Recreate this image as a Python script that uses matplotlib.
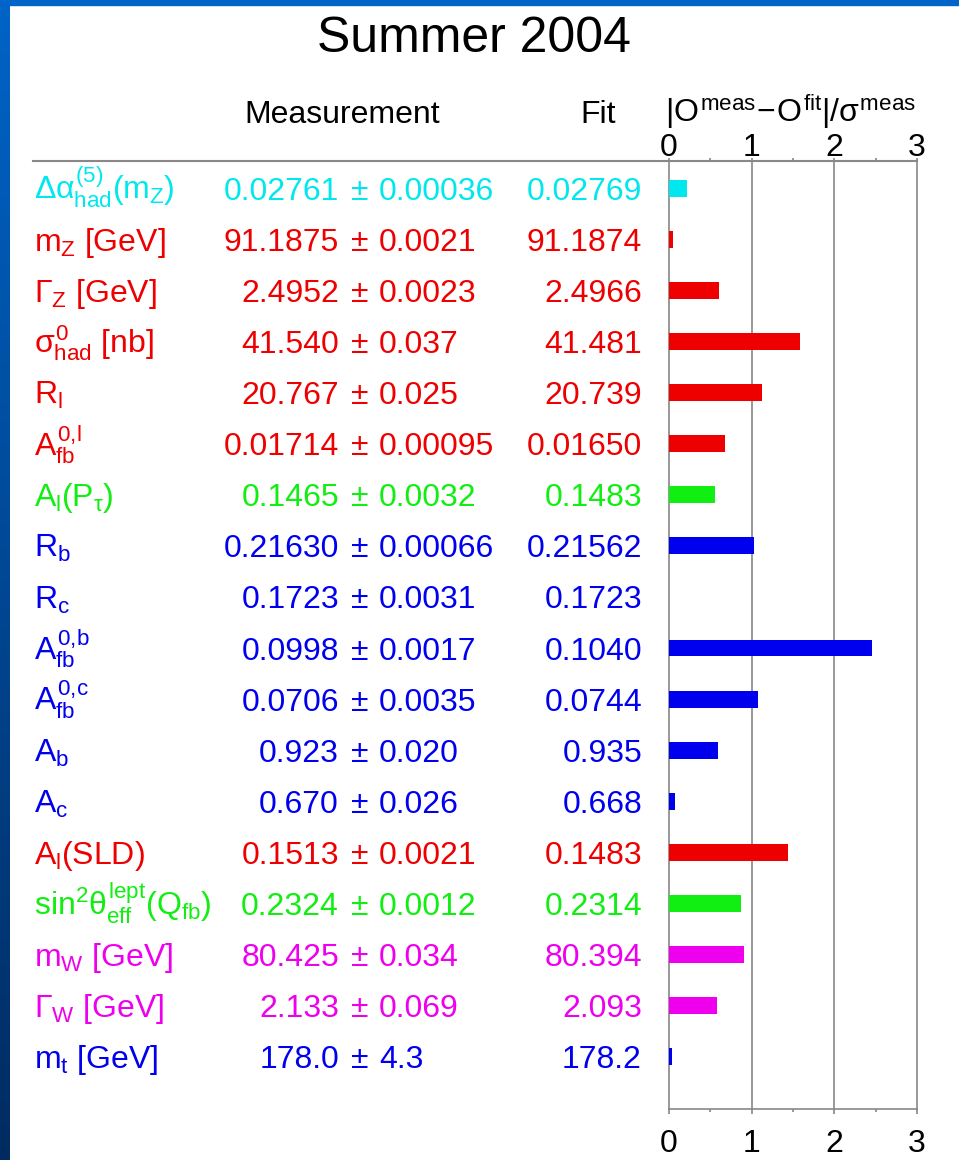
import numpy as np
import matplotlib
matplotlib.use('Agg')
from matplotlib import pyplot as plt
from matplotlib.lines import Line2D
from matplotlib.patches import Rectangle
from matplotlib.transforms import blended_transform_factory

plt.rcParams['font.family'] = 'Liberation Sans'
plt.rcParams['mathtext.fontset'] = 'custom'
plt.rcParams['mathtext.rm'] = 'Liberation Sans'
plt.rcParams['mathtext.it'] = 'Liberation Sans'
plt.rcParams['mathtext.sf'] = 'Liberation Sans'
plt.rcParams['mathtext.bf'] = 'Liberation Sans:bold'

# Electroweak observables, Summer 2004 fit
labels = [r'$\Delta\alpha^{(5)}_{had}(m_Z)$', r'$m_Z$ [GeV]', r'$\Gamma_Z$ [GeV]',
          r'$\sigma^0_{had}$ [nb]', r'$R_l$', r'$A^{0{,}l}_{fb}$', r'$A_l(P_\tau)$',
          r'$R_b$', r'$R_c$', r'$A^{0{,}b}_{fb}$', r'$A^{0{,}c}_{fb}$', r'$A_b$', r'$A_c$',
          r'$A_l$(SLD)', r'$\mathrm{sin}^2\theta^{lept}_{eff}(Q_{fb})$', r'$m_W$ [GeV]',
          r'$\Gamma_W$ [GeV]', r'$m_t$ [GeV]']
meas = ['0.02761', '91.1875', '2.4952', '41.540', '20.767', '0.01714', '0.1465',
        '0.21630', '0.1723', '0.0998', '0.0706', '0.923', '0.670', '0.1513',
        '0.2324', '80.425', '2.133', '178.0']
errs = ['0.00036', '0.0021', '0.0023', '0.037', '0.025', '0.00095', '0.0032',
        '0.00066', '0.0031', '0.0017', '0.0035', '0.020', '0.026', '0.0021',
        '0.0012', '0.034', '0.069', '4.3']
fits = ['0.02769', '91.1874', '2.4966', '41.481', '20.739', '0.01650', '0.1483',
        '0.21562', '0.1723', '0.1040', '0.0744', '0.935', '0.668', '0.1483',
        '0.2314', '80.394', '2.093', '178.2']
pulls = [0.22, 0.05, 0.61, 1.59, 1.12, 0.68, 0.56, 1.03, 0.00, 2.45, 1.08, 0.59,
         0.07, 1.44, 0.87, 0.91, 0.58, 0.04]

cyan, red, green, blue, mag = '#00e8ee', '#ee0000', '#11ee11', '#0000ee', '#ee00ee'
row_colors = [cyan, red, red, red, red, red, green, blue, blue, blue, blue, blue,
              blue, red, green, mag, mag, blue]

W, H = 959, 1160
fig = plt.figure(figsize=(W / 100, H / 100), dpi=100)
fig.patch.set_facecolor('white')

# blue frame on the left and top
strip = fig.add_axes([0, 0, 10 / W, 1])
grad = np.linspace(0, 1, 256).reshape(-1, 1)
strip.imshow(np.dstack([grad * 0 + 0.0, 0.39 - 0.22 * grad, 0.78 - 0.40 * grad]),
             aspect='auto', extent=[0, 1, 0, 1])
strip.axis('off')
fig.add_artist(Rectangle((0, 1 - 5 / H), 1, 5 / H, transform=fig.transFigure,
                         color='#0064c8', zorder=5))

def fx(px):
    return px / W

def fy(py):
    return 1 - py / H

grey = '#888888'
ax = fig.add_axes([fx(669), fy(1109), fx(917) - fx(669), (1109 - 161) / H])
rows = np.arange(len(pulls))
ax.barh(rows, pulls, height=0.33, color=row_colors, zorder=3)
ax.set_xlim(0, 3)
ax.set_ylim(18.02, -0.53)
for g in [1, 2]:
    ax.axvline(g, color=grey, lw=1.2, zorder=1)
for s in ['left', 'right', 'bottom']:
    ax.spines[s].set_color(grey)
    ax.spines[s].set_linewidth(1.2)
ax.spines['top'].set_visible(False)
ax.set_yticks([])
ax.set_xticks([0, 1, 2, 3])
ax.set_xticks([0.5, 1.5, 2.5], minor=True)
ax.tick_params(axis='x', which='major', direction='out', length=3.6, width=1.2,
               color=grey, labelsize=23, pad=11)
ax.tick_params(axis='x', which='minor', direction='out', length=2.2, width=1.2,
               color=grey)

top = ax.secondary_xaxis('top')
top.set_xticks([0, 1, 2, 3])
top.set_xticks([0.5, 1.5, 2.5], minor=True)
top.spines['top'].set_visible(False)
top.tick_params(axis='x', which='major', direction='out', length=2.2, width=1.2,
                color=grey, labelsize=23, pad=-4)
top.tick_params(axis='x', which='minor', direction='out', length=2.2, width=1.2,
                color=grey)

# rule under the headers
fig.add_artist(Line2D([fx(33), fx(917)], [fy(161), fy(161)], transform=fig.transFigure,
                      color=grey, lw=1.5))

fig.text(fx(474), fy(52), 'Summer 2004', fontsize=36, ha='center', va='baseline')
fig.text(fx(342), fy(123), 'Measurement', fontsize=23, ha='center', va='baseline')
fig.text(fx(598), fy(123), 'Fit', fontsize=23, ha='center', va='baseline')
fig.text(fx(665), fy(122), r'$|O^{meas}\!-\!O^{fit}|/\sigma^{meas}$', fontsize=23,
         ha='left', va='baseline')

trans = blended_transform_factory(fig.transFigure, ax.transData)
off = 0.225
for i in rows:
    c = row_colors[i]
    y = i + off
    ax.text(fx(34), y, labels[i], transform=trans, color=c, fontsize=23,
            ha='left', va='baseline')
    ax.text(fx(339), y, meas[i], transform=trans, color=c, fontsize=23,
            ha='right', va='baseline')
    ax.text(fx(360), y, '\u00b1', transform=trans, color=c, fontsize=23,
            ha='center', va='baseline')
    ax.text(fx(379), y, errs[i], transform=trans, color=c, fontsize=23,
            ha='left', va='baseline')
    ax.text(fx(642), y, fits[i], transform=trans, color=c, fontsize=23,
            ha='right', va='baseline')

fig.savefig('out.png', dpi=100)
